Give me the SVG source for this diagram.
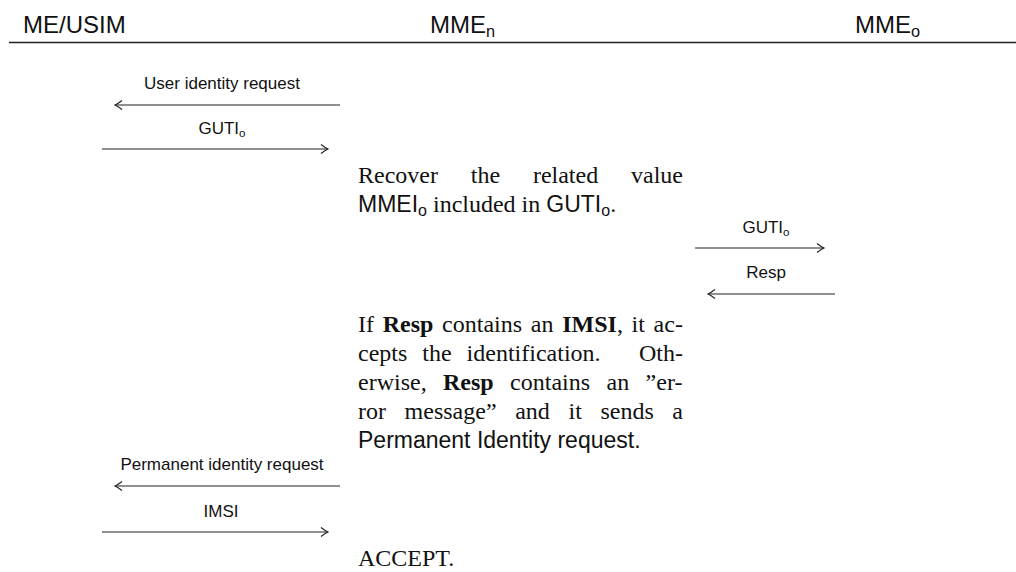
<svg xmlns="http://www.w3.org/2000/svg" width="1016" height="572" viewBox="0 0 1016 572">
  <style>
    .hdr { font-family: "Liberation Sans", Arial, sans-serif; font-size: 24px; fill: #111; }
    .lbl { font-family: "Liberation Sans", Arial, sans-serif; font-size: 17px; fill: #111; text-anchor: middle; }
    .ser { font-family: "Liberation Serif", "Times New Roman", serif; font-size: 24px; fill: #111; }
    .sans { font-family: "Liberation Sans", Arial, sans-serif; font-size: 23px; }
    .sub { font-size: 0.68em; }
    .psub { font-family: "Liberation Sans", Arial, sans-serif; font-size: 16px; }
    .b { font-weight: bold; }
    .end { text-anchor: end; }
    .msg { stroke: #222; stroke-width: 1.2; fill: none; marker-end: url(#hook); }
  </style>
  <defs>
    <marker id="hook" markerUnits="userSpaceOnUse" markerWidth="12" markerHeight="12" refX="10" refY="6" orient="auto">
      <path d="M3,1.5 Q7.2,4.8 10,6 Q7.2,7.2 3,10.5" fill="none" stroke="#222" stroke-width="1.1"/>
    </marker>
  </defs>

  <!-- lifeline headers -->
  <g id="me-usim"><text class="hdr" x="23" y="33">ME/USIM</text></g>
  <g id="mme-n"><text class="hdr" x="430" y="33">MME<tspan class="sub" dy="4">n</tspan></text></g>
  <g id="mme-o"><text class="hdr" x="855" y="33">MME<tspan class="sub" dy="4">o</tspan></text></g>
  <g id="header-rule"><line x1="9" y1="42.5" x2="1016" y2="42.5" stroke="#222" stroke-width="1.5"/></g>

  <!-- connectors -->
  <g id="connectors">
    <line class="msg" x1="340" y1="105" x2="115" y2="105"/>
    <text class="lbl" x="222" y="89">User identity request</text>
    <line class="msg" x1="102" y1="149" x2="328" y2="149"/>
    <text class="lbl" x="222" y="134">GUTI<tspan class="sub" dy="3">o</tspan></text>

    <line class="msg" x1="695" y1="248" x2="824" y2="248"/>
    <text class="lbl" x="766" y="233">GUTI<tspan class="sub" dy="3">o</tspan></text>
    <line class="msg" x1="835" y1="294" x2="708" y2="294"/>
    <text class="lbl" x="766" y="278">Resp</text>

    <line class="msg" x1="340" y1="486" x2="115" y2="486"/>
    <text class="lbl" x="222" y="470">Permanent identity request</text>
    <line class="msg" x1="102" y1="532" x2="328" y2="532"/>
    <text class="lbl" x="221" y="517">IMSI</text>
  </g>

  <!-- note 1 -->
  <g id="note-recover">
    <text class="ser" y="183"><tspan x="358">Recover</tspan><tspan x="470.8">the</tspan><tspan x="532.9">related</tspan><tspan x="631">value</tspan></text>
    <text class="ser" x="358" y="212"><tspan class="sans">MMEI</tspan><tspan class="psub" dy="4">o</tspan><tspan dy="-4"> included in </tspan><tspan class="sans">GUTI</tspan><tspan class="psub" dy="4">o</tspan><tspan dy="-4">.</tspan></text>
  </g>

  <!-- note 2 -->
  <g id="note-resp">
    <text class="ser" y="332"><tspan x="358">If</tspan><tspan x="382.7" class="b">Resp</tspan><tspan x="442.1">contains</tspan><tspan x="530.8">an</tspan><tspan x="562.2" class="b">IMSI</tspan><tspan>,</tspan><tspan x="631.6">it</tspan><tspan x="653.6">ac-</tspan></text>
    <text class="ser" y="361"><tspan x="358">cepts</tspan><tspan x="422.3">the</tspan><tspan x="466.6">identification.</tspan><tspan x="683" class="end">Oth-</tspan></text>
    <text class="ser" y="390"><tspan x="358">erwise,</tspan><tspan x="443" class="b">Resp</tspan><tspan x="510.1">contains</tspan><tspan x="606.5">an</tspan><tspan x="645.6">”er-</tspan></text>
    <text class="ser" y="419"><tspan x="358">ror</tspan><tspan x="404.6">message”</tspan><tspan x="515.2">and</tspan><tspan x="568.5">it</tspan><tspan x="600.4">sends</tspan><tspan x="672.3">a</tspan></text>
    <text class="ser" x="358" y="448"><tspan class="sans">Permanent Identity request.</tspan></text>
  </g>

  <!-- note 3 -->
  <g id="note-accept"><text class="ser" x="358" y="566">ACCEPT.</text></g>
</svg>
